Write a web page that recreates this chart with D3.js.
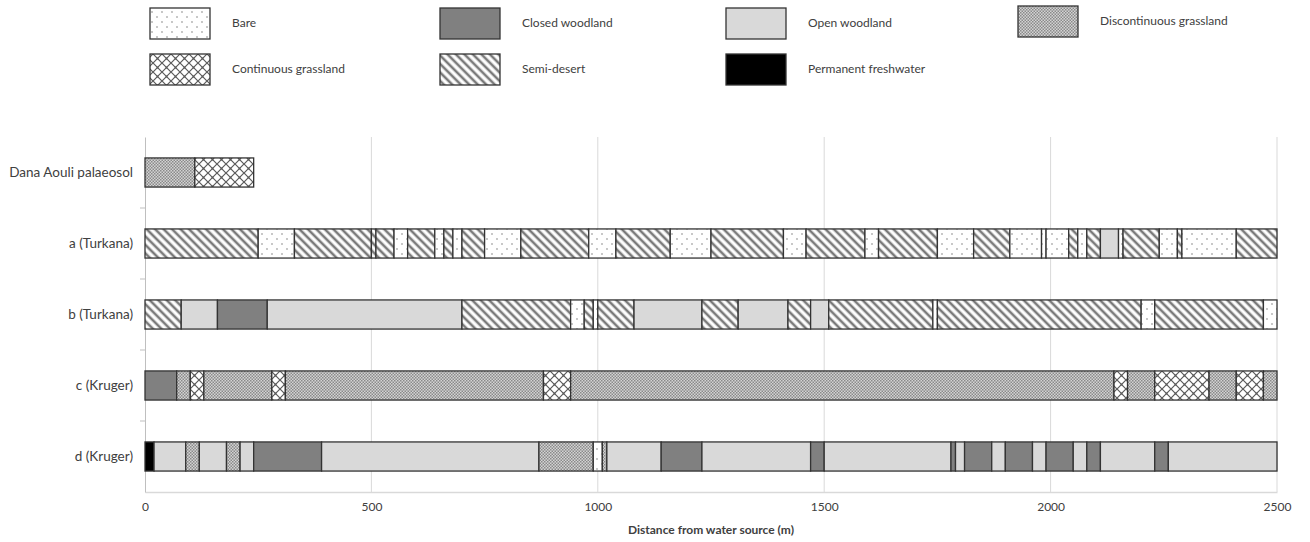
<!DOCTYPE html>
<html>
<head>
<meta charset="utf-8">
<script src="https://cdn.jsdelivr.net/npm/d3@7"></script>
<style>
  body { margin: 0; background: #fff; }
  svg text { font-family: Lato, "Open Sans", sans-serif; fill: #404040; }
</style>
</head>
<body>
<svg id="chart" width="1310" height="542"></svg>
<script>
// habitat classes (legend order)
const classKeys = ['bare', 'closed', 'open', 'disc', 'cont', 'semi', 'water'];
const classLabels = ['Bare', 'Closed woodland', 'Open woodland', 'Discontinuous grassland',
    'Continuous grassland', 'Semi-desert', 'Permanent freshwater'];

// transects, top to bottom
const transects = ['Dana Aouli palaeosol', 'a (Turkana)', 'b (Turkana)', 'c (Kruger)', 'd (Kruger)'];

// segments: [from (m), to (m), class]
const danaAouli = [[0, 110, 'disc'], [110, 240, 'cont']];

const turkanaA = [
    [0, 250, 'semi'], [250, 330, 'bare'], [330, 500, 'semi'], [500, 510, 'semi'], [510, 550, 'semi'],
    [550, 580, 'bare'], [580, 640, 'semi'], [640, 660, 'bare'], [660, 680, 'semi'], [680, 700, 'bare'],
    [700, 750, 'semi'], [750, 830, 'bare'], [830, 980, 'semi'], [980, 1040, 'bare'], [1040, 1160, 'semi'],
    [1160, 1250, 'bare'], [1250, 1410, 'semi'], [1410, 1460, 'bare'], [1460, 1590, 'semi'], [1590, 1620, 'bare'],
    [1620, 1750, 'semi'], [1750, 1830, 'bare'], [1830, 1910, 'semi'], [1910, 1980, 'bare'], [1980, 1990, 'bare'],
    [1990, 2040, 'bare'], [2040, 2060, 'semi'], [2060, 2080, 'bare'], [2080, 2110, 'semi'], [2110, 2150, 'open'],
    [2150, 2160, 'bare'], [2160, 2240, 'semi'], [2240, 2280, 'bare'], [2280, 2290, 'semi'], [2290, 2410, 'bare'],
    [2410, 2500, 'semi']
];

const turkanaB = [
    [0, 80, 'semi'], [80, 160, 'open'], [160, 270, 'closed'], [270, 700, 'open'], [700, 940, 'semi'],
    [940, 970, 'bare'], [970, 990, 'semi'], [990, 1000, 'bare'], [1000, 1080, 'semi'], [1080, 1230, 'open'],
    [1230, 1310, 'semi'], [1310, 1420, 'open'], [1420, 1470, 'semi'], [1470, 1510, 'open'], [1510, 1740, 'semi'],
    [1740, 1750, 'bare'], [1750, 2200, 'semi'], [2200, 2230, 'bare'], [2230, 2470, 'semi'], [2470, 2500, 'bare']
];

const krugerC = [
    [0, 70, 'closed'], [70, 100, 'disc'], [100, 130, 'cont'], [130, 280, 'disc'], [280, 310, 'cont'],
    [310, 880, 'disc'], [880, 940, 'cont'], [940, 2140, 'disc'], [2140, 2170, 'cont'], [2170, 2230, 'disc'],
    [2230, 2350, 'cont'], [2350, 2410, 'disc'], [2410, 2470, 'cont'], [2470, 2500, 'disc']
];

const krugerD = [
    [0, 20, 'water'], [20, 90, 'open'], [90, 120, 'disc'], [120, 180, 'open'], [180, 210, 'disc'],
    [210, 240, 'open'], [240, 390, 'closed'], [390, 870, 'open'], [870, 990, 'disc'], [990, 1010, 'bare'],
    [1010, 1020, 'disc'], [1020, 1140, 'open'], [1140, 1230, 'closed'], [1230, 1470, 'open'], [1470, 1500, 'closed'],
    [1500, 1780, 'open'], [1780, 1790, 'closed'], [1790, 1810, 'open'], [1810, 1870, 'closed'], [1870, 1900, 'open'],
    [1900, 1960, 'closed'], [1960, 1990, 'open'], [1990, 2050, 'closed'], [2050, 2080, 'open'], [2080, 2110, 'closed'],
    [2110, 2230, 'open'], [2230, 2260, 'closed'], [2260, 2500, 'open']
];

const segmentsByTransect = [danaAouli, turkanaA, turkanaB, krugerC, krugerD];
const xTicks = [0, 500, 1000, 1500, 2000, 2500];

const svg = d3.select('#chart');
const margin = {left: 145, right: 33, top: 137, bottom: 50};
const width = 1310 - margin.left - margin.right;
const height = 542 - margin.top - margin.bottom;

// ---- fill patterns ----
const defs = svg.append('defs');

let p = defs.append('pattern').attr('id', 'pat-bare').attr('patternUnits', 'userSpaceOnUse')
    .attr('width', 10).attr('height', 10);
p.append('rect').attr('width', 10).attr('height', 10).attr('fill', '#fff');
p.append('circle').attr('cx', 2).attr('cy', 2).attr('r', 0.7).attr('fill', '#666');
p.append('circle').attr('cx', 7).attr('cy', 7).attr('r', 0.7).attr('fill', '#666');

p = defs.append('pattern').attr('id', 'pat-disc').attr('patternUnits', 'userSpaceOnUse')
    .attr('width', 3).attr('height', 3);
p.append('rect').attr('width', 3).attr('height', 3).attr('fill', '#d4d4d4');
p.append('rect').attr('width', 1.5).attr('height', 1.5).attr('fill', '#8a8a8a');
p.append('rect').attr('x', 1.5).attr('y', 1.5).attr('width', 1.5).attr('height', 1.5).attr('fill', '#8a8a8a');

// lattice of white cells with dark crossing lines
p = defs.append('pattern').attr('id', 'pat-cont').attr('patternUnits', 'userSpaceOnUse')
    .attr('width', 9).attr('height', 9);
p.append('rect').attr('width', 9).attr('height', 9).attr('fill', '#fff');
p.append('path').attr('d', 'M0,0L9,9M9,0L0,9').attr('stroke', '#5a5a5a').attr('stroke-width', 1.2);
p.append('circle').attr('cx', 4.5).attr('cy', 4.5).attr('r', 1).attr('fill', '#5a5a5a');

p = defs.append('pattern').attr('id', 'pat-semi').attr('patternUnits', 'userSpaceOnUse')
    .attr('width', 6).attr('height', 6).attr('patternTransform', 'rotate(-45)');
p.append('rect').attr('width', 6).attr('height', 6).attr('fill', '#fff');
p.append('line').attr('x1', 2).attr('y1', 0).attr('x2', 2).attr('y2', 6)
    .attr('stroke', '#7a7a7a').attr('stroke-width', 2.6);

const fills = {
    bare: 'url(#pat-bare)', closed: '#808080', open: '#d9d9d9', disc: 'url(#pat-disc)',
    cont: 'url(#pat-cont)', semi: 'url(#pat-semi)', water: '#000'
};

// ---- scales ----
const x = d3.scaleLinear().domain([0, 2500]).range([0, width]);
const y = d3.scaleBand().domain(transects).range([0, height]).paddingInner(0.59).paddingOuter(0.295);

const g = svg.append('g').attr('transform', `translate(${margin.left},${margin.top})`);

// gridlines
g.append('g').selectAll('line').data(xTicks.slice(1)).join('line')
    .attr('x1', d => x(d)).attr('x2', d => x(d)).attr('y1', 0).attr('y2', height)
    .attr('stroke', '#d9d9d9').attr('stroke-width', 1);

// x axis
const xAxis = g.append('g').attr('transform', `translate(0,${height})`)
    .call(d3.axisBottom(x).tickValues(xTicks).tickFormat(d3.format('d')).tickSize(0).tickPadding(10));
xAxis.select('.domain').attr('stroke', '#d9d9d9').attr('stroke-width', 1.5);
xAxis.selectAll('text').style('font-size', '12px').attr('fill', '#404040');

// y axis
const yAxis = g.append('g')
    .call(d3.axisLeft(y).tickSize(0).tickPadding(12));
yAxis.select('.domain').attr('stroke', '#bfbfbf');
yAxis.selectAll('text').style('font-size', '13.5px').attr('fill', '#404040');
// category separators on the y axis
const step = y.step();
g.append('g').selectAll('line').data(transects.slice(1)).join('line')
    .attr('x1', -5).attr('x2', 0)
    .attr('y1', d => y(d) - (step - y.bandwidth()) / 2)
    .attr('y2', d => y(d) - (step - y.bandwidth()) / 2)
    .attr('stroke', '#bfbfbf');

// bars
transects.forEach((name, i) => {
    g.append('g').selectAll('rect').data(segmentsByTransect[i]).join('rect')
        .attr('x', d => x(d[0]))
        .attr('width', d => x(d[1]) - x(d[0]))
        .attr('y', y(name))
        .attr('height', y.bandwidth())
        .attr('fill', d => fills[d[2]])
        .attr('stroke', '#333')
        .attr('stroke-width', 1.3);
});

// axis title
svg.append('text')
    .attr('x', margin.left + width / 2).attr('y', 534)
    .attr('text-anchor', 'middle')
    .style('font-size', '12px').style('font-weight', 'bold').attr('fill', '#000')
    .text('Distance from water source (m)');

// ---- legend ----
const legendCols = [150, 440, 726, 1018];
const legendRows = [8, 54];
const legend = svg.append('g');
classKeys.forEach((k, i) => {
    const lx = legendCols[i % 4];
    const ly = legendRows[Math.floor(i / 4)] - (i === 3 ? 2 : 0);
    legend.append('rect').attr('x', lx).attr('y', ly).attr('width', 60).attr('height', 31)
        .attr('fill', fills[k]).attr('stroke', '#333').attr('stroke-width', 1.3);
    legend.append('text').attr('x', lx + 82).attr('y', ly + 19)
        .style('font-size', '12px').attr('fill', '#404040').text(classLabels[i]);
});
</script>
</body>
</html>
